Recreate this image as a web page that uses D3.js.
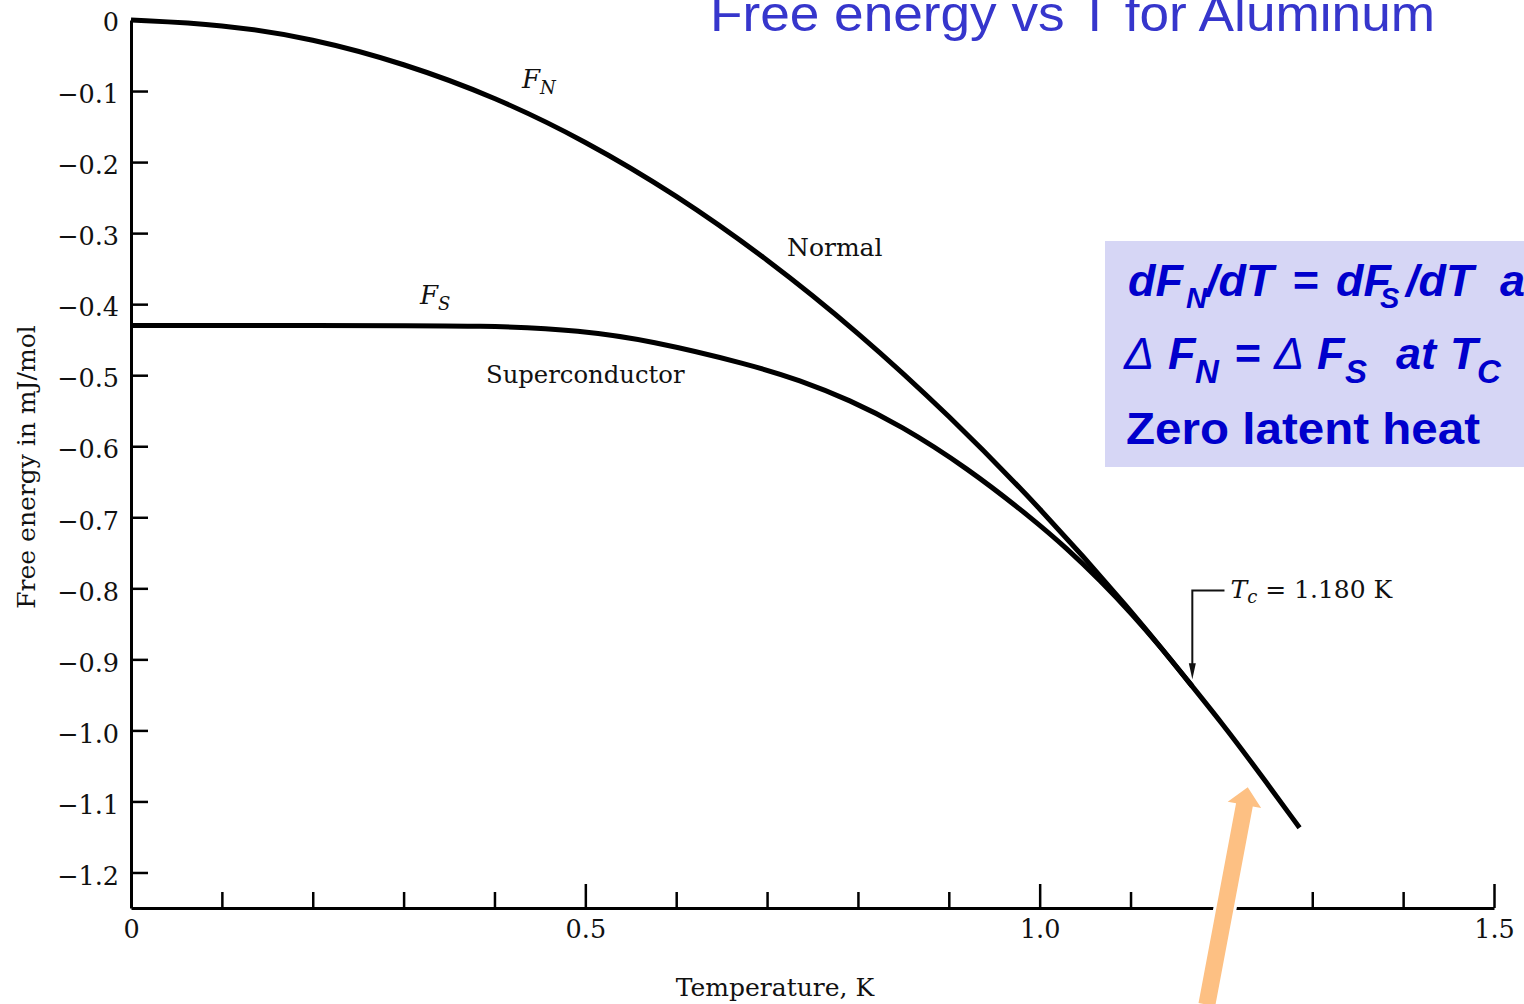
<!DOCTYPE html>
<html>
<head>
<meta charset="utf-8">
<script src="https://cdn.jsdelivr.net/npm/d3@7"></script>
<style>
  body { margin: 0; background: #fff; }
  svg { display: block; }
</style>
</head>
<body>
<div id="chart"></div>
<script>
// values: temperature in K, free energy in mJ/mol
let normalT = [0, 0.1, 0.2, 0.3, 0.4, 0.5, 0.6, 0.7, 0.8, 0.9, 1.0, 1.1, 1.168, 1.2, 1.231, 1.286];
let normalF = [0, -0.006, -0.026, -0.061, -0.108, -0.170, -0.246, -0.336, -0.439, -0.556, -0.686, -0.830, -0.938, -0.989, -1.041, -1.137];

let superT = [0, 0.2, 0.403, 0.494, 0.571, 0.681, 0.736, 0.791, 0.846, 0.920, 0.993, 1.030, 1.066, 1.103, 1.132, 1.168];
let superF = [-0.430, -0.430, -0.430, -0.437, -0.451, -0.485, -0.507, -0.535, -0.570, -0.630, -0.703, -0.744, -0.788, -0.838, -0.881, -0.938];

let xTicks = [0, 0.1, 0.2, 0.3, 0.4, 0.5, 0.6, 0.7, 0.8, 0.9, 1.0, 1.1, 1.2, 1.3, 1.4, 1.5];
let xMajor = [0, 0.5, 1.0, 1.5];
let yTicks = [0, -0.1, -0.2, -0.3, -0.4, -0.5, -0.6, -0.7, -0.8, -0.9, -1.0, -1.1, -1.2];

let tcT = 1.168;        // where the Tc arrow lands
let tcTopF = -0.803;    // height of the Tc bracket
let tcTipF = -0.928;
let tcLabelT = 1.210;
let tcLabelF = -0.814;

// orange pointer (data units), tail below the axis, tip near the curve
let pointerTail = [1.184, -1.386];
let pointerTip = [1.229, -1.080];

let width = 1524;
let height = 1004;
let serif = "DejaVu Serif";
let sans = "Liberation Sans, Arial, sans-serif";

let xScale = d3.scaleLinear().domain([0, 1.5]).range([131, 1494]);
let yScale = d3.scaleLinear().domain([-1.25, 0]).range([908, 20]);

let svg = d3
  .select("#chart")
  .append("svg")
  .attr("width", width)
  .attr("height", height);

svg.append("rect").attr("width", width).attr("height", height).attr("fill", "#fff");

/* Axes */
let fmt = d => (d === 0 ? "0" : d3.format(".1f")(d));
let isMajor = d => xMajor.some(m => Math.abs(m - d) < 1e-9);

let xAxis = d3
  .axisBottom(xScale)
  .tickValues(xTicks)
  .tickSizeInner(-16)
  .tickSizeOuter(0)
  .tickPadding(12)
  .tickFormat(d => (isMajor(d) ? fmt(d) : ""));

let gx = svg
  .append("g")
  .attr("class", "x axis")
  .attr("transform", `translate(0, ${yScale(-1.25)})`)
  .call(xAxis);

gx.selectAll(".tick line")
  .attr("stroke-width", 2.5)
  .attr("y2", d => (isMajor(d) ? -24 : -16));

let yAxis = d3
  .axisLeft(yScale)
  .tickValues(yTicks)
  .tickSizeInner(-17)
  .tickSizeOuter(0)
  .tickPadding(12)
  .tickFormat(fmt);

let gy = svg
  .append("g")
  .attr("class", "y axis")
  .attr("transform", `translate(${xScale(0)}, 0)`)
  .call(yAxis);

gy.selectAll(".tick line").attr("stroke-width", 2.5);
gy.selectAll(".tick text").attr("dy", "0.46em");

svg.selectAll(".axis .domain").attr("stroke-width", 3).attr("stroke", "#000");
svg.selectAll(".axis text")
  .attr("font-family", serif)
  .attr("font-size", 25.5)
  .attr("fill", "#111");
gy.selectAll(".tick").filter(d => d === 0).select("text").attr("dy", "0.4em");

svg.append("text")
  .attr("transform", `translate(35, 467) rotate(-90)`)
  .attr("text-anchor", "middle")
  .attr("font-family", serif)
  .attr("font-size", 25)
  .attr("fill", "#111")
  .text("Free energy in mJ/mol");

svg.append("text")
  .attr("x", 775)
  .attr("y", 996)
  .attr("text-anchor", "middle")
  .attr("font-family", serif)
  .attr("font-size", 25)
  .attr("fill", "#111")
  .text("Temperature, K");

/* Curves */
let line = d3
  .line()
  .x(d => xScale(d[0]))
  .y(d => yScale(d[1]))
  .curve(d3.curveBasis);

let curves = [
  { name: "normal", pts: d3.zip(normalT, normalF) },
  { name: "super", pts: d3.zip(superT, superF) }
];

svg.append("g")
  .selectAll("path")
  .data(curves)
  .enter()
  .append("path")
  .attr("d", d => line(d.pts))
  .attr("fill", "none")
  .attr("stroke", "#000")
  .attr("stroke-width", 5)
  .attr("stroke-linecap", "butt");

/* Curve labels */
function subLabel(x, y, main, sub, size, subSize) {
  let t = svg.append("text")
    .attr("x", x)
    .attr("y", y)
    .attr("font-family", serif)
    .attr("font-style", "italic")
    .attr("font-size", size)
    .attr("fill", "#111");
  t.append("tspan").text(main);
  t.append("tspan").attr("font-size", subSize).attr("dy", 6).text(sub);
  return t;
}

subLabel(522, 88, "F", "N", 26, 18);
subLabel(420, 304, "F", "S", 26, 18);

svg.append("text")
  .attr("x", 787).attr("y", 256)
  .attr("font-family", serif).attr("font-size", 25).attr("fill", "#111")
  .text("Normal");

svg.append("text")
  .attr("x", 486).attr("y", 383)
  .attr("font-family", serif).attr("font-size", 24.3).attr("fill", "#111")
  .text("Superconductor");

/* Tc bracket with arrow */
let tx = xScale(tcT);
let bracketEnd = xScale(tcLabelT) - 6;
svg.append("path")
  .attr("d", `M${bracketEnd},${yScale(tcTopF)} H${tx} V${yScale(tcTipF) - 14}`)
  .attr("fill", "none")
  .attr("stroke", "#111")
  .attr("stroke-width", 2);
svg.append("path")
  .attr("d", `M${tx - 3.5},${yScale(tcTipF) - 16} L${tx},${yScale(tcTipF)} L${tx + 3.5},${yScale(tcTipF) - 16} Z`)
  .attr("fill", "#111");

let tcText = svg.append("text")
  .attr("x", xScale(tcLabelT))
  .attr("y", yScale(tcLabelF))
  .attr("font-family", serif)
  .attr("font-size", 25)
  .attr("fill", "#111");
tcText.append("tspan").attr("font-style", "italic").text("T");
tcText.append("tspan").attr("font-style", "italic").attr("font-size", 18).attr("dy", 5).text("c");
tcText.append("tspan").attr("dy", -5).text(" = 1.180 K");

/* Orange pointer */
let p0 = [xScale(pointerTail[0]), yScale(pointerTail[1])];
let p1 = [xScale(pointerTip[0]), yScale(pointerTip[1])];
let ang = Math.atan2(p1[1] - p0[1], p1[0] - p0[0]);
let ux = Math.cos(ang), uy = Math.sin(ang);
let nx = -uy, ny = ux;
let len = Math.hypot(p1[0] - p0[0], p1[1] - p0[1]);
let shaftW = 8.5, headW = 17, headL = 18;
let hb = [p0[0] + ux * (len - headL), p0[1] + uy * (len - headL)];
let arrowPts = [
  [p0[0] + nx * shaftW, p0[1] + ny * shaftW],
  [hb[0] + nx * shaftW, hb[1] + ny * shaftW],
  [hb[0] + nx * headW, hb[1] + ny * headW],
  p1,
  [hb[0] - nx * headW, hb[1] - ny * headW],
  [hb[0] - nx * shaftW, hb[1] - ny * shaftW],
  [p0[0] - nx * shaftW, p0[1] - ny * shaftW]
];
svg.append("path")
  .attr("d", "M" + arrowPts.map(p => p.join(",")).join("L") + "Z")
  .attr("fill", "#FDC083")
  .attr("stroke", "#fff")
  .attr("stroke-width", 6)
  .attr("stroke-linejoin", "miter")
  .style("paint-order", "stroke");

/* Title */
svg.append("text")
  .attr("x", 710)
  .attr("y", 31)
  .attr("font-family", sans)
  .attr("font-size", 50)
  .attr("fill", "#3636CC")
  .attr("textLength", 725)
  .attr("lengthAdjust", "spacingAndGlyphs")
  .text("Free energy vs T for Aluminum");

/* Blue note box */
let box = svg.append("g");
box.append("rect")
  .attr("x", 1105)
  .attr("y", 241)
  .attr("width", width - 1105)
  .attr("height", 226)
  .attr("fill", "#D6D6F5");

let blue = "#0000CC";
function piece(parent, x, text, opts) {
  let s = parent.append("tspan").attr("x", x).text(text);
  if (opts && opts.sub) s.attr("font-size", opts.sub).attr("dy", opts.dy);
  if (opts && opts.thin) s.attr("font-weight", "normal");
  return s;
}

let l1 = box.append("text")
  .attr("y", 296)
  .attr("font-family", sans)
  .attr("font-weight", "bold")
  .attr("font-style", "italic")
  .attr("font-size", 45)
  .attr("fill", blue);
piece(l1, 1128, "dF");
piece(l1, 1186, "N", { sub: 29, dy: 12 });
piece(l1, 1206, "/dT", { sub: 45, dy: -12 });
piece(l1, 1292, "=");
piece(l1, 1336, "dF");
piece(l1, 1380, "S", { sub: 29, dy: 12 });
piece(l1, 1406, "/dT", { sub: 45, dy: -12 });
piece(l1, 1500, "at T");

let l2 = box.append("text")
  .attr("y", 369)
  .attr("font-family", sans)
  .attr("font-weight", "bold")
  .attr("font-style", "italic")
  .attr("font-size", 45)
  .attr("fill", blue);
piece(l2, 1124, "\u0394", { thin: true });
piece(l2, 1168, "F");
piece(l2, 1195, "N", { sub: 33, dy: 14 });
piece(l2, 1234, "=", { sub: 45, dy: -14 });
piece(l2, 1274, "\u0394", { thin: true });
piece(l2, 1317, "F");
piece(l2, 1345, "S", { sub: 33, dy: 14 });
piece(l2, 1396, "at", { sub: 45, dy: -14 });
piece(l2, 1450, "T");
piece(l2, 1477, "C", { sub: 33, dy: 14 });

box.append("text")
  .attr("x", 1126)
  .attr("y", 444)
  .attr("font-family", sans)
  .attr("font-weight", "bold")
  .attr("font-size", 44)
  .attr("fill", blue)
  .attr("textLength", 354)
  .attr("lengthAdjust", "spacingAndGlyphs")
  .text("Zero latent heat");
</script>
</body>
</html>
